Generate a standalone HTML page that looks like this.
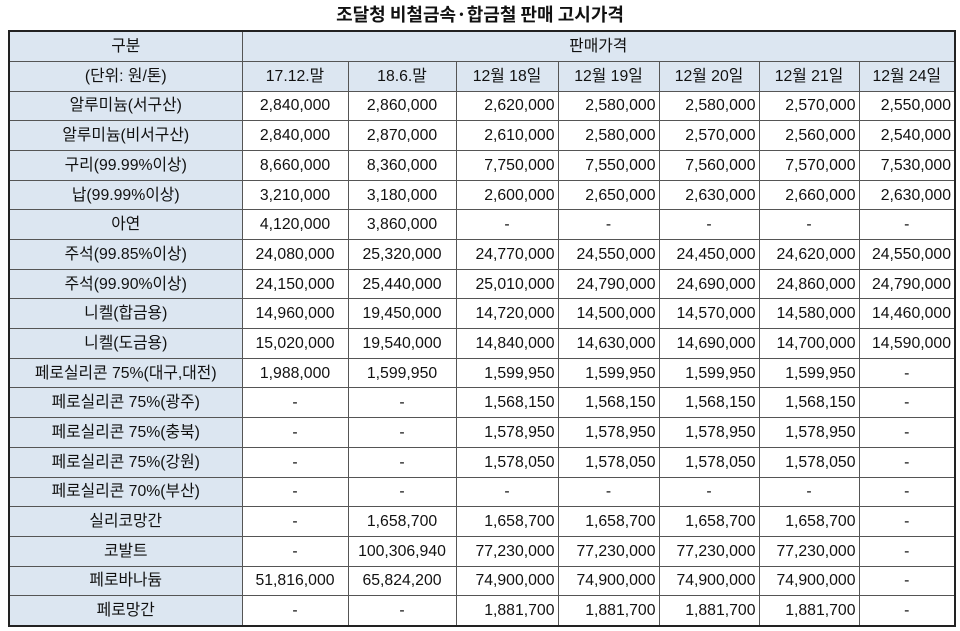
<!DOCTYPE html>
<html><head><meta charset="utf-8"><style>
body{margin:0;width:960px;height:631px;background:#fff;font-family:"Liberation Sans","Noto Sans CJK KR",sans-serif;overflow:hidden}
h1{position:absolute;left:0;top:2px;width:960px;margin:0;text-align:center;font-size:18px;font-weight:bold;color:#111;font-family:"Noto Sans CJK KR",sans-serif;line-height:24px}
table{position:absolute;left:8px;top:30px;border-collapse:collapse;table-layout:fixed;border:2px solid #222;font-size:15.8px;color:#111}
td{border:1px solid #555;padding:0 3px;height:28.7px;white-space:nowrap;text-align:right;line-height:27px;overflow:hidden}
td.h,td.n{background:#dce6f1;text-align:center}
td.c{text-align:center}
tr.hd td{background:#dce6f1;text-align:center;height:28.8px}
</style></head><body>
<h1>조달청 비철금속·합금철 판매 고시가격</h1>
<table>
<colgroup><col style="width:233px"><col style="width:106px"><col style="width:108px"><col style="width:102px"><col style="width:101px"><col style="width:100px"><col style="width:100px"><col style="width:96px"></colgroup>
<tr class="hd"><td>구분</td><td colspan="7">판매가격</td></tr>
<tr class="hd"><td>(단위: 원/톤)</td><td>17.12.말</td><td>18.6.말</td><td>12월 18일</td><td>12월 19일</td><td>12월 20일</td><td>12월 21일</td><td>12월 24일</td></tr>
<tbody id="tb"></tbody>
</table>
<script>
const rows=[
["알루미늄(서구산)","2,840,000","2,860,000","2,620,000","2,580,000","2,580,000","2,570,000","2,550,000"],
["알루미늄(비서구산)","2,840,000","2,870,000","2,610,000","2,580,000","2,570,000","2,560,000","2,540,000"],
["구리(99.99%이상)","8,660,000","8,360,000","7,750,000","7,550,000","7,560,000","7,570,000","7,530,000"],
["납(99.99%이상)","3,210,000","3,180,000","2,600,000","2,650,000","2,630,000","2,660,000","2,630,000"],
["아연","4,120,000","3,860,000","-","-","-","-","-"],
["주석(99.85%이상)","24,080,000","25,320,000","24,770,000","24,550,000","24,450,000","24,620,000","24,550,000"],
["주석(99.90%이상)","24,150,000","25,440,000","25,010,000","24,790,000","24,690,000","24,860,000","24,790,000"],
["니켈(합금용)","14,960,000","19,450,000","14,720,000","14,500,000","14,570,000","14,580,000","14,460,000"],
["니켈(도금용)","15,020,000","19,540,000","14,840,000","14,630,000","14,690,000","14,700,000","14,590,000"],
["페로실리콘 75%(대구,대전)","1,988,000","1,599,950","1,599,950","1,599,950","1,599,950","1,599,950","-"],
["페로실리콘 75%(광주)","-","-","1,568,150","1,568,150","1,568,150","1,568,150","-"],
["페로실리콘 75%(충북)","-","-","1,578,950","1,578,950","1,578,950","1,578,950","-"],
["페로실리콘 75%(강원)","-","-","1,578,050","1,578,050","1,578,050","1,578,050","-"],
["페로실리콘 70%(부산)","-","-","-","-","-","-","-"],
["실리코망간","-","1,658,700","1,658,700","1,658,700","1,658,700","1,658,700","-"],
["코발트","-","100,306,940","77,230,000","77,230,000","77,230,000","77,230,000","-"],
["페로바나듐","51,816,000","65,824,200","74,900,000","74,900,000","74,900,000","74,900,000","-"],
["페로망간","-","-","1,881,700","1,881,700","1,881,700","1,881,700","-"]];
const tb=document.getElementById('tb');
rows.forEach(r=>{
const tr=document.createElement('tr');


r.forEach((v,i)=>{
const td=document.createElement('td');
td.textContent=v;
if(i===0)td.className='n';else if(v==='-'||i<=2)td.className='c';


tr.appendChild(td);});
tb.appendChild(tr);});
</script>
</body></html>
